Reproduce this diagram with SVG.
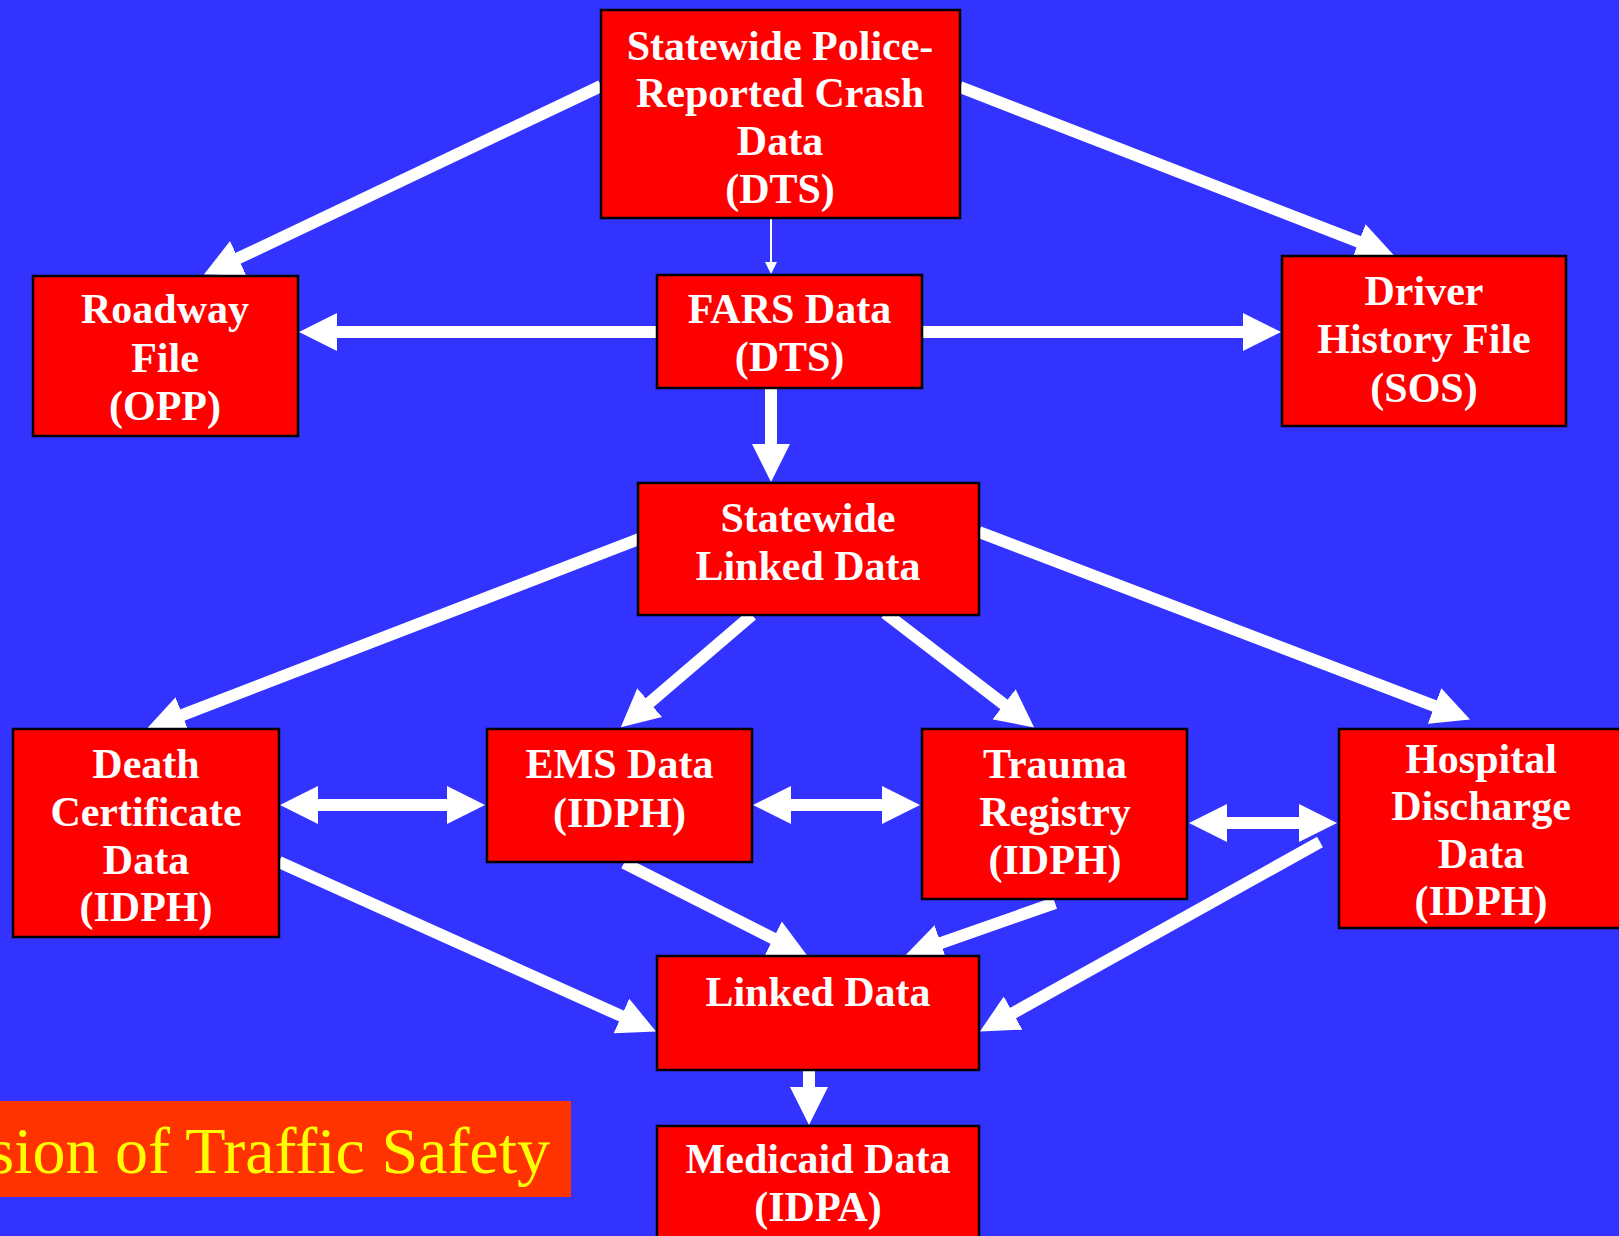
<svg xmlns="http://www.w3.org/2000/svg" width="1619" height="1236" viewBox="0 0 1619 1236">
<style>
.node rect{fill:#FF0000;stroke:#000;stroke-width:2.5}
.node text{font-family:"Liberation Serif","Times New Roman",serif;font-weight:bold;font-size:42px;fill:#fff;text-anchor:middle}
.conn{stroke:#fff;stroke-width:12;fill:none}
.thin{stroke:#fff;stroke-width:2;fill:none}
</style>
<defs>
<marker id="ah" markerUnits="userSpaceOnUse" viewBox="0 0 38 38" markerWidth="38" markerHeight="38" refX="1" refY="19" orient="auto-start-reverse">
<path d="M0,0 L38,19 L0,38 Z" fill="#fff"/>
</marker>
<marker id="ahs" markerUnits="userSpaceOnUse" viewBox="0 0 12 12" markerWidth="12" markerHeight="12" refX="1" refY="6" orient="auto">
<path d="M0,0 L12,6 L0,12 Z" fill="#fff"/>
</marker>
</defs>
<rect x="0" y="0" width="1619" height="1236" fill="#3333FF"/>

<g id="banner">
<rect x="-2" y="1101" width="573" height="96" fill="#FF3300"/>
<text x="550" y="1173" font-family="'Liberation Serif','Times New Roman',serif" font-size="66" fill="#FFFF00" text-anchor="end">sion of Traffic Safety</text>
</g>

<g id="connectors">
<path class="conn" d="M601,86 L237.3,258.7" marker-end="url(#ah)"/>
<path class="conn" d="M960,87 L1359.6,242.2" marker-end="url(#ah)"/>
<path class="thin" d="M771,218 L771,263" marker-end="url(#ahs)"/>
<path class="conn" d="M657,332 L336,332" marker-end="url(#ah)"/>
<path class="conn" d="M922,332 L1244,332" marker-end="url(#ah)"/>
<path class="conn" d="M771,388 L771,445" marker-end="url(#ah)"/>
<path class="conn" d="M639,539 L181.5,715.3" marker-end="url(#ah)"/>
<path class="conn" d="M752,615 L648.9,703.3" marker-end="url(#ah)"/>
<path class="conn" d="M885,613 L1004.8,704.9" marker-end="url(#ah)"/>
<path class="conn" d="M979,532 L1435.5,706.4" marker-end="url(#ah)"/>
<path class="conn" d="M317,805 L448,805" marker-start="url(#ah)" marker-end="url(#ah)"/>
<path class="conn" d="M790,805 L883,805" marker-start="url(#ah)" marker-end="url(#ah)"/>
<path class="conn" d="M1226,823 L1300,823" marker-start="url(#ah)" marker-end="url(#ah)"/>
<path class="conn" d="M279,862 L622.3,1016.4" marker-end="url(#ah)"/>
<path class="conn" d="M624,863 L774.1,938.9" marker-end="url(#ah)"/>
<path class="conn" d="M1055,903 L939.9,943.4" marker-end="url(#ah)"/>
<path class="conn" d="M1320,842 L1012.2,1013.5" marker-end="url(#ah)"/>
<path class="conn" d="M809,1070 L809,1088" marker-end="url(#ah)"/>
</g>

<g id="police" class="node">
<rect x="601" y="10" width="359" height="208"/>
<text x="780" y="60">Statewide Police-</text>
<text x="780" y="107">Reported Crash</text>
<text x="780" y="155">Data</text>
<text x="780" y="203">(DTS)</text>
</g>
<g id="fars" class="node">
<rect x="657" y="275" width="265" height="113"/>
<text x="789.5" y="323">FARS Data</text>
<text x="789.5" y="371">(DTS)</text>
</g>
<g id="roadway" class="node">
<rect x="33" y="276" width="265" height="160"/>
<text x="165" y="323">Roadway</text>
<text x="165" y="372">File</text>
<text x="165" y="420">(OPP)</text>
</g>
<g id="driver" class="node">
<rect x="1282" y="256" width="284" height="170"/>
<text x="1424" y="305">Driver</text>
<text x="1424" y="353">History File</text>
<text x="1424" y="402">(SOS)</text>
</g>
<g id="statewide-linked" class="node">
<rect x="638" y="483" width="341" height="132"/>
<text x="808" y="532">Statewide</text>
<text x="808" y="580">Linked Data</text>
</g>
<g id="death" class="node">
<rect x="13" y="729" width="266" height="208"/>
<text x="146" y="778">Death</text>
<text x="146" y="826">Certificate</text>
<text x="146" y="874">Data</text>
<text x="146" y="921">(IDPH)</text>
</g>
<g id="ems" class="node">
<rect x="487" y="729" width="265" height="133"/>
<text x="619.5" y="778">EMS Data</text>
<text x="619.5" y="827">(IDPH)</text>
</g>
<g id="trauma" class="node">
<rect x="922" y="729" width="265" height="170"/>
<text x="1055" y="778">Trauma</text>
<text x="1055" y="826">Registry</text>
<text x="1055" y="874">(IDPH)</text>
</g>
<g id="hospital" class="node">
<rect x="1339" y="729" width="290" height="199"/>
<text x="1481" y="773" font-size="38">Hospital</text>
<text x="1481" y="820" font-size="38">Discharge</text>
<text x="1481" y="868" font-size="38">Data</text>
<text x="1481" y="915" font-size="38">(IDPH)</text>
</g>
<g id="linked" class="node">
<rect x="657" y="956" width="322" height="114"/>
<text x="818" y="1006">Linked Data</text>
</g>
<g id="medicaid" class="node">
<rect x="657" y="1126" width="322" height="120"/>
<text x="818" y="1173">Medicaid Data</text>
<text x="818" y="1221">(IDPA)</text>
</g>
</svg>
